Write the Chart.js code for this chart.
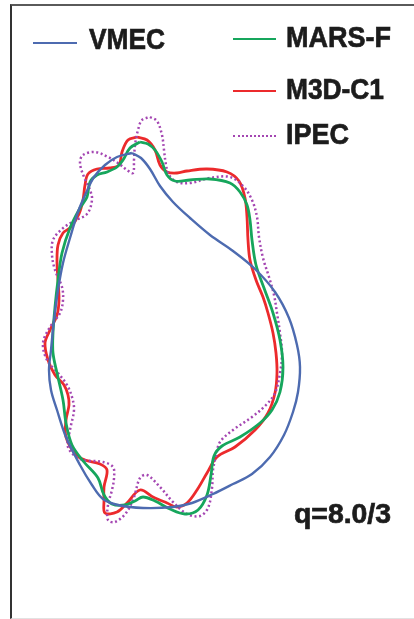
<!DOCTYPE html>
<html>
<head>
<meta charset="utf-8">
<script src="https://cdn.jsdelivr.net/npm/chart.js@4/dist/chart.umd.min.js"></script>
<style>
  html, body { margin: 0; padding: 0; background: #fff; }
  #wrap { position: relative; width: 414px; height: 619px; overflow: hidden; }
  #frame { position: absolute; left: 10px; top: 4px; width: 420px; height: 612px;
           border-top: 2px solid #5a5a5a; border-left: 2px solid #333; border-bottom: 1px solid #e2e2e2; }
  canvas { position: absolute; left: 0; top: 0; }
  .lbl { position: absolute; font-family: "Liberation Sans", Arial, sans-serif; font-weight: bold;
         color: #1c1c1c; white-space: nowrap; line-height: 1; transform-origin: 0 0;
         -webkit-text-stroke: 0.7px #1c1c1c; }
  .key { position: absolute; height: 0; }
</style>
</head>
<body>
<div id="wrap">
  <div id="frame"></div>
  <canvas id="c" width="414" height="619"></canvas>
</div>
<script>
// ---- data (surface shapes, plot units) ----
const seriesNames = ["VMEC", "MARS-F", "M3D-C1", "IPEC"];
const qLabel = "q=8.0/3";

const vmecX = [132,141,150,160,173,190,210,233,255,275,289,297,300,298,293,284,270,252,233,213,192,173,143,118,103,92,80,66,57,51,49,51,54,58,63,70,78,86,94,105,117,132];
const vmecY = [153,158,169,186,202,218,235,251,269,292,318,345,367,392,412,435,457,474,484,494,503,507,508,505,499,485,465,437,410,390,370,350,320,290,263,238,212,193,177,165,157,153];

const marsX = [140,148,155,162,167,175,190,210,230,240,247,250,252,256,264,273,280,283,280,272,260,240,222,214,211,207,198,185,170,155,143,135,125,112,104,98,84,72,66,63,57,53,53,55,58,62,70,80,87,90,97,107,117,123,130,140];
const marsY = [142,144,150,162,175,181,180,179,183,192,205,220,240,265,288,313,340,367,392,410,423,437,446,456,475,495,510,514,509,501,497,501,505,504,495,478,462,445,423,400,373,353,333,307,280,253,228,208,197,182,175,172,167,160,148,142];

const m3dX = [137,147,155,160,167,177,187,207,227,239,245,247,248,250,256,263,268,273,276,277,275,268,255,235,217,207,197,187,177,167,153,140,127,117,105,104,104,107,100,85,76,66,66,69,68,64,55,48,45,50,57,59,58,57,58,63,71,79,83,85,88,97,110,119,122,128,137];
const m3dY = [137,140,150,165,172,173,171,169,172,181,198,217,240,260,280,297,313,333,353,373,393,413,430,447,457,473,490,503,507,503,497,490,503,512,513,500,487,470,464,460,455,437,420,405,395,385,375,360,343,330,315,300,280,262,245,233,227,214,200,185,174,169,168,165,152,140,137];

const ipecX = [150,157,162,164,166,169,177,190,210,230,243,252,257,259,263,269,274,277,280,282,280,275,266,252,233,220,216,213,212,208,200,187,173,160,147,140,134,126,115,108,108,112,114,113,103,80,68,70,74,72,67,58,47,43,50,60,63,62,55,52,53,62,74,87,92,90,84,80,83,95,108,118,127,133,134,135,138,142,150];
const ipecY = [117,121,135,150,165,175,182,183,178,177,186,200,217,237,258,277,295,313,333,353,373,393,405,417,430,442,456,470,488,508,516,514,502,487,475,478,497,513,522,520,505,490,478,467,462,459,447,430,410,397,385,373,360,343,327,313,300,287,270,255,240,229,221,214,200,190,177,163,155,152,157,163,170,173,160,145,130,120,117];

const toPts = (xs, ys) => xs.map((x, i) => ({ x: x, y: ys[i] }));

const colors = { VMEC: "#4d6bb0", "MARS-F": "#16a65c", "M3D-C1": "#ec2a2c", IPEC: "#a446b2" };

new Chart(document.getElementById("c"), {
  type: "scatter",
  data: {
    datasets: [
      { label: "VMEC", data: toPts(vmecX, vmecY), borderColor: colors.VMEC, borderWidth: 2.4 },
      { label: "MARS-F", data: toPts(marsX, marsY), borderColor: colors["MARS-F"], borderWidth: 2.8 },
      { label: "IPEC", data: toPts(ipecX, ipecY), borderColor: colors.IPEC, borderWidth: 2.5, borderDash: [2, 2.6] },
      { label: "M3D-C1", data: toPts(m3dX, m3dY), borderColor: colors["M3D-C1"], borderWidth: 2.8 }
    ].map(d => Object.assign(d, { showLine: true, pointRadius: 0, tension: 0.35, fill: false }))
  },
  options: {
    responsive: false,
    animation: false,
    layout: { padding: 0 },
    plugins: { legend: { display: false }, tooltip: { enabled: false } },
    scales: {
      x: { type: "linear", display: false, min: 0, max: 414 },
      y: { type: "linear", display: false, min: 0, max: 619, reverse: true }
    }
  }
});

// ---- legend and annotation as real text ----
const wrap = document.getElementById("wrap");
function addKey(x1, x2, y, color, width, dotted) {
  const d = document.createElement("div");
  d.className = "key";
  d.style.left = x1 + "px";
  d.style.width = (x2 - x1) + "px";
  d.style.top = (y - width / 2) + "px";
  d.style.borderTop = width + "px " + (dotted ? "dotted " : "solid ") + color;
  wrap.appendChild(d);
}
function addText(txt, left, baseline, size, targetW) {
  const s = document.createElement("span");
  s.className = "lbl";
  s.textContent = txt;
  s.style.fontSize = size + "px";
  s.style.left = left + "px";
  const asc = 0.905, desc = 0.212;
  const off = (size - (asc + desc) * size) / 2 + asc * size;
  s.style.top = (baseline - off) + "px";
  wrap.appendChild(s);
  const w = s.getBoundingClientRect().width;
  if (w > 0) s.style.transform = "scaleX(" + (targetW / w) + ")";
}
addKey(33, 77, 43, colors.VMEC, 2.2, false);
addKey(233, 276, 39, colors["MARS-F"], 2.6, false);
addKey(233, 276, 91, colors["M3D-C1"], 2.6, false);
addKey(233, 276, 136, colors.IPEC, 2.6, true);
addText(seriesNames[0], 89, 49, 30, 76);
addText(seriesNames[1], 286, 47, 30, 105);
addText(seriesNames[2], 286, 99, 30, 98);
addText(seriesNames[3], 286, 144, 30, 63);
addText(qLabel, 294, 524, 28, 97);
</script>
</body>
</html>
